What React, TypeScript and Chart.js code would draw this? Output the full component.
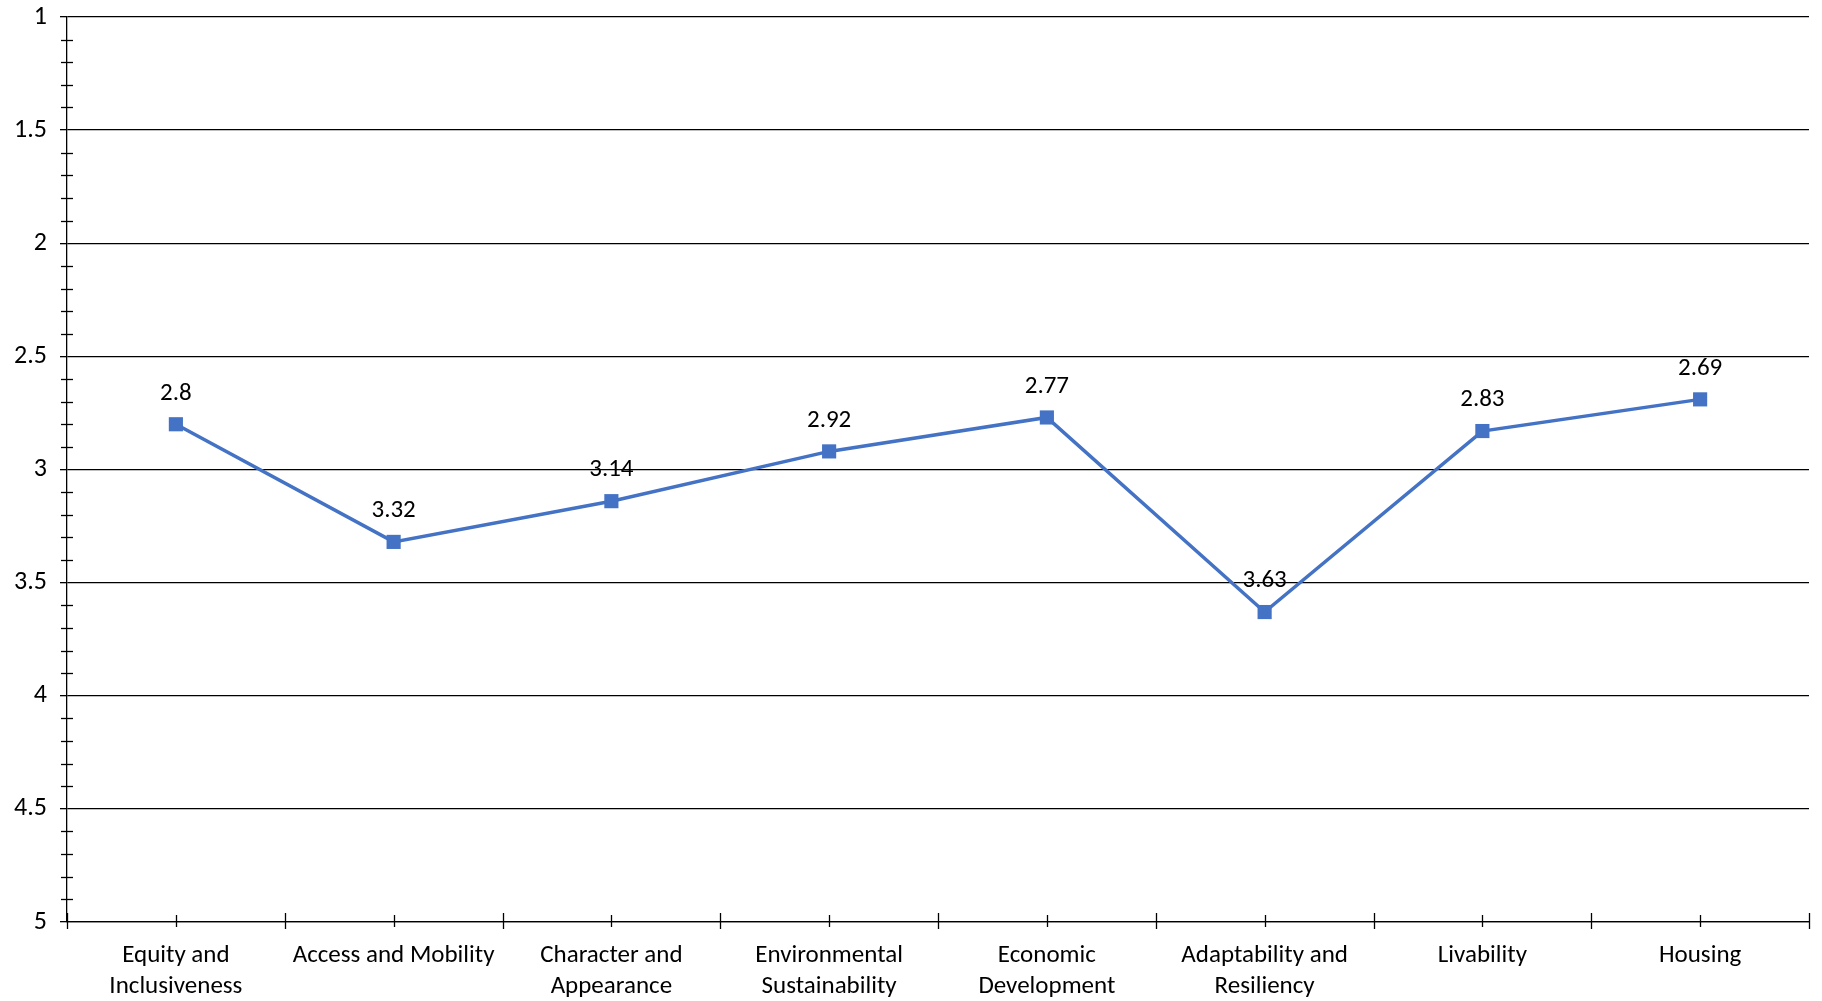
import React, { useEffect, useRef } from "react";
import { Chart, registerables } from "chart.js";

Chart.register(...registerables);

const categories: (string | string[])[] = [
  ["Equity and", "Inclusiveness"],
  "Access and Mobility",
  ["Character and", "Appearance"],
  ["Environmental", "Sustainability"],
  ["Economic", "Development"],
  ["Adaptability and", "Resiliency"],
  "Livability",
  "Housing",
];
const scores: number[] = [2.8, 3.32, 3.14, 2.92, 2.77, 3.63, 2.83, 2.69];
const yMin = 1;
const yMax = 5;
const yMajorStep = 0.5;
const yMinorStep = 0.1;

const FONT = "Calibri, Carlito, Lato, 'Open Sans', sans-serif";
const FONT_SIZE = 25;
const BLUE = "#4472C4";

const tickPlugin = {
  id: "customTicks",
  afterDraw(chart: any) {
    const ctx = chart.ctx;
    const x = chart.scales.x;
    const y = chart.scales.y;
    ctx.save();
    ctx.strokeStyle = "#000";
    ctx.lineWidth = 1.3;
    const ax = y.right;
    const nSteps = Math.round((yMax - yMin) / yMinorStep);
    for (let i = 0; i <= nSteps; i++) {
      const v = yMin + i * yMinorStep;
      if (Math.abs(v / yMajorStep - Math.round(v / yMajorStep)) < 1e-6) continue;
      const py = Math.round(y.getPixelForValue(v)) + 0.5;
      ctx.beginPath();
      ctx.moveTo(ax - 6, py);
      ctx.lineTo(ax + 6, py);
      ctx.stroke();
    }
    const ay = x.top;
    const n = categories.length;
    const w = (x.right - x.left) / n;
    for (let i = 0; i <= n; i++) {
      const px = Math.round(x.left + i * w) + 0.5;
      ctx.beginPath();
      ctx.moveTo(px, ay - 9);
      ctx.lineTo(px, ay + 7);
      ctx.stroke();
    }
    for (let i = 0; i < n; i++) {
      const px = Math.round(x.getPixelForValue(i)) + 0.5;
      ctx.beginPath();
      ctx.moveTo(px, ay - 7);
      ctx.lineTo(px, ay + 5);
      ctx.stroke();
    }
    ctx.restore();
  },
};

const labelPlugin = {
  id: "valueLabels",
  afterDatasetsDraw(chart: any) {
    const ctx = chart.ctx;
    const meta = chart.getDatasetMeta(0);
    ctx.save();
    ctx.fillStyle = "#000";
    ctx.font = `${FONT_SIZE}px ${FONT}`;
    ctx.textAlign = "center";
    ctx.textBaseline = "middle";
    meta.data.forEach((pt: any, i: number) => {
      ctx.fillText(String(scores[i]), pt.x, pt.y - 31);
    });
    ctx.restore();
  },
};

export default function App() {
  const ref = useRef<HTMLCanvasElement | null>(null);
  useEffect(() => {
    document.body.style.margin = "0";
    if (!ref.current) return;
    const chart = new Chart(ref.current, {
      type: "line",
      data: {
        labels: categories,
        datasets: [
          {
            data: scores,
            borderColor: BLUE,
            backgroundColor: BLUE,
            borderWidth: 3.5,
            pointStyle: "rect",
            pointRadius: 10,
            pointHoverRadius: 10,
            pointBorderWidth: 0,
            tension: 0,
          },
        ],
      },
      options: {
        animation: false,
        responsive: true,
        maintainAspectRatio: false,
        layout: { padding: { top: 17, right: 13, left: 0, bottom: 0 } },
        plugins: {
          legend: { display: false },
          tooltip: { enabled: false },
        },
        scales: {
          x: {
            type: "category",
            offset: true,
            grid: { display: false, offset: true },
            border: { display: true, color: "#000", width: 1.3 },
            ticks: {
              color: "#000",
              font: { family: FONT, size: FONT_SIZE, lineHeight: 1.24 },
              padding: 10,
              maxRotation: 0,
              autoSkip: false,
            },
            afterFit(scale: any) {
              scale.height = 79;
              scale.paddingLeft = 0;
              scale.paddingRight = 0;
            },
          },
          y: {
            type: "linear",
            reverse: true,
            min: yMin,
            max: yMax,
            grid: { color: "#000", lineWidth: 1.3, tickLength: 7, tickColor: "#000" },
            border: { display: true, color: "#000", width: 1.3 },
            ticks: {
              stepSize: yMajorStep,
              color: "#000",
              font: { family: FONT, size: 26 },
              padding: 13,
              callback: (v: any) => String(Number(v)),
            },
            afterFit(scale: any) {
              scale.width = 67;
              scale.paddingTop = 0;
              scale.paddingBottom = 0;
            },
          },
        },
      },
      plugins: [tickPlugin, labelPlugin],
    });
    return () => chart.destroy();
  }, []);
  return (
    <div style={{ position: "absolute", left: 0, top: 0, width: 1822, height: 1001, background: "#fff" }}>
      <canvas ref={ref} />
    </div>
  );
}
